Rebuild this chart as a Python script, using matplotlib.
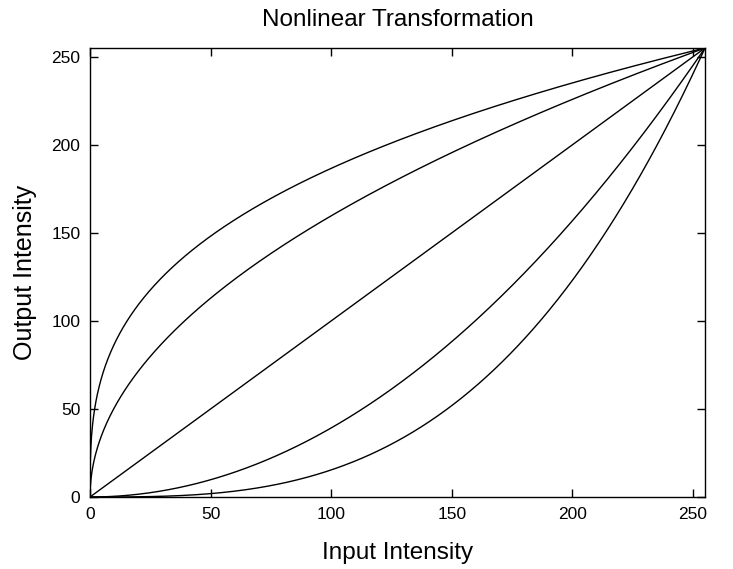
import numpy as np
import matplotlib
matplotlib.use('Agg')
import matplotlib.pyplot as plt

plt.rcParams['font.family'] = ['Liberation Sans', 'DejaVu Sans']

# Gamma exponents of the five transfer curves (top to bottom)
gammas = [1 / 3, 1 / 2, 1.0, 2.0, 3.0]
max_level = 255
x_ticks = [0, 50, 100, 150, 200, 250]
y_ticks = [0, 50, 100, 150, 200, 250]

x = np.linspace(0, max_level, 2001)

fig = plt.figure(figsize=(7.33, 5.69), dpi=100)
ax = fig.add_axes([90 / 733, 1 - 497 / 569, 615 / 733, 449 / 569])

for g in gammas:
    ax.plot(x, max_level * (x / max_level) ** g, color='black', linewidth=1.0)

ax.set_xlim(0, max_level)
ax.set_ylim(0, max_level)
ax.set_xticks(x_ticks)
ax.set_yticks(y_ticks)
ax.tick_params(direction='in', length=6, width=1, top=True, right=True,
               labelsize=12.5, pad=7)
for s in ax.spines.values():
    s.set_linewidth(1.0)

ax.set_title('Nonlinear Transformation', fontsize=17.5, pad=15.5)
ax.set_xlabel('Input Intensity', fontsize=17.5, labelpad=14.5)
ax.set_ylabel('Output Intensity', fontsize=18, labelpad=10)

fig.savefig('out.png', dpi=100)
